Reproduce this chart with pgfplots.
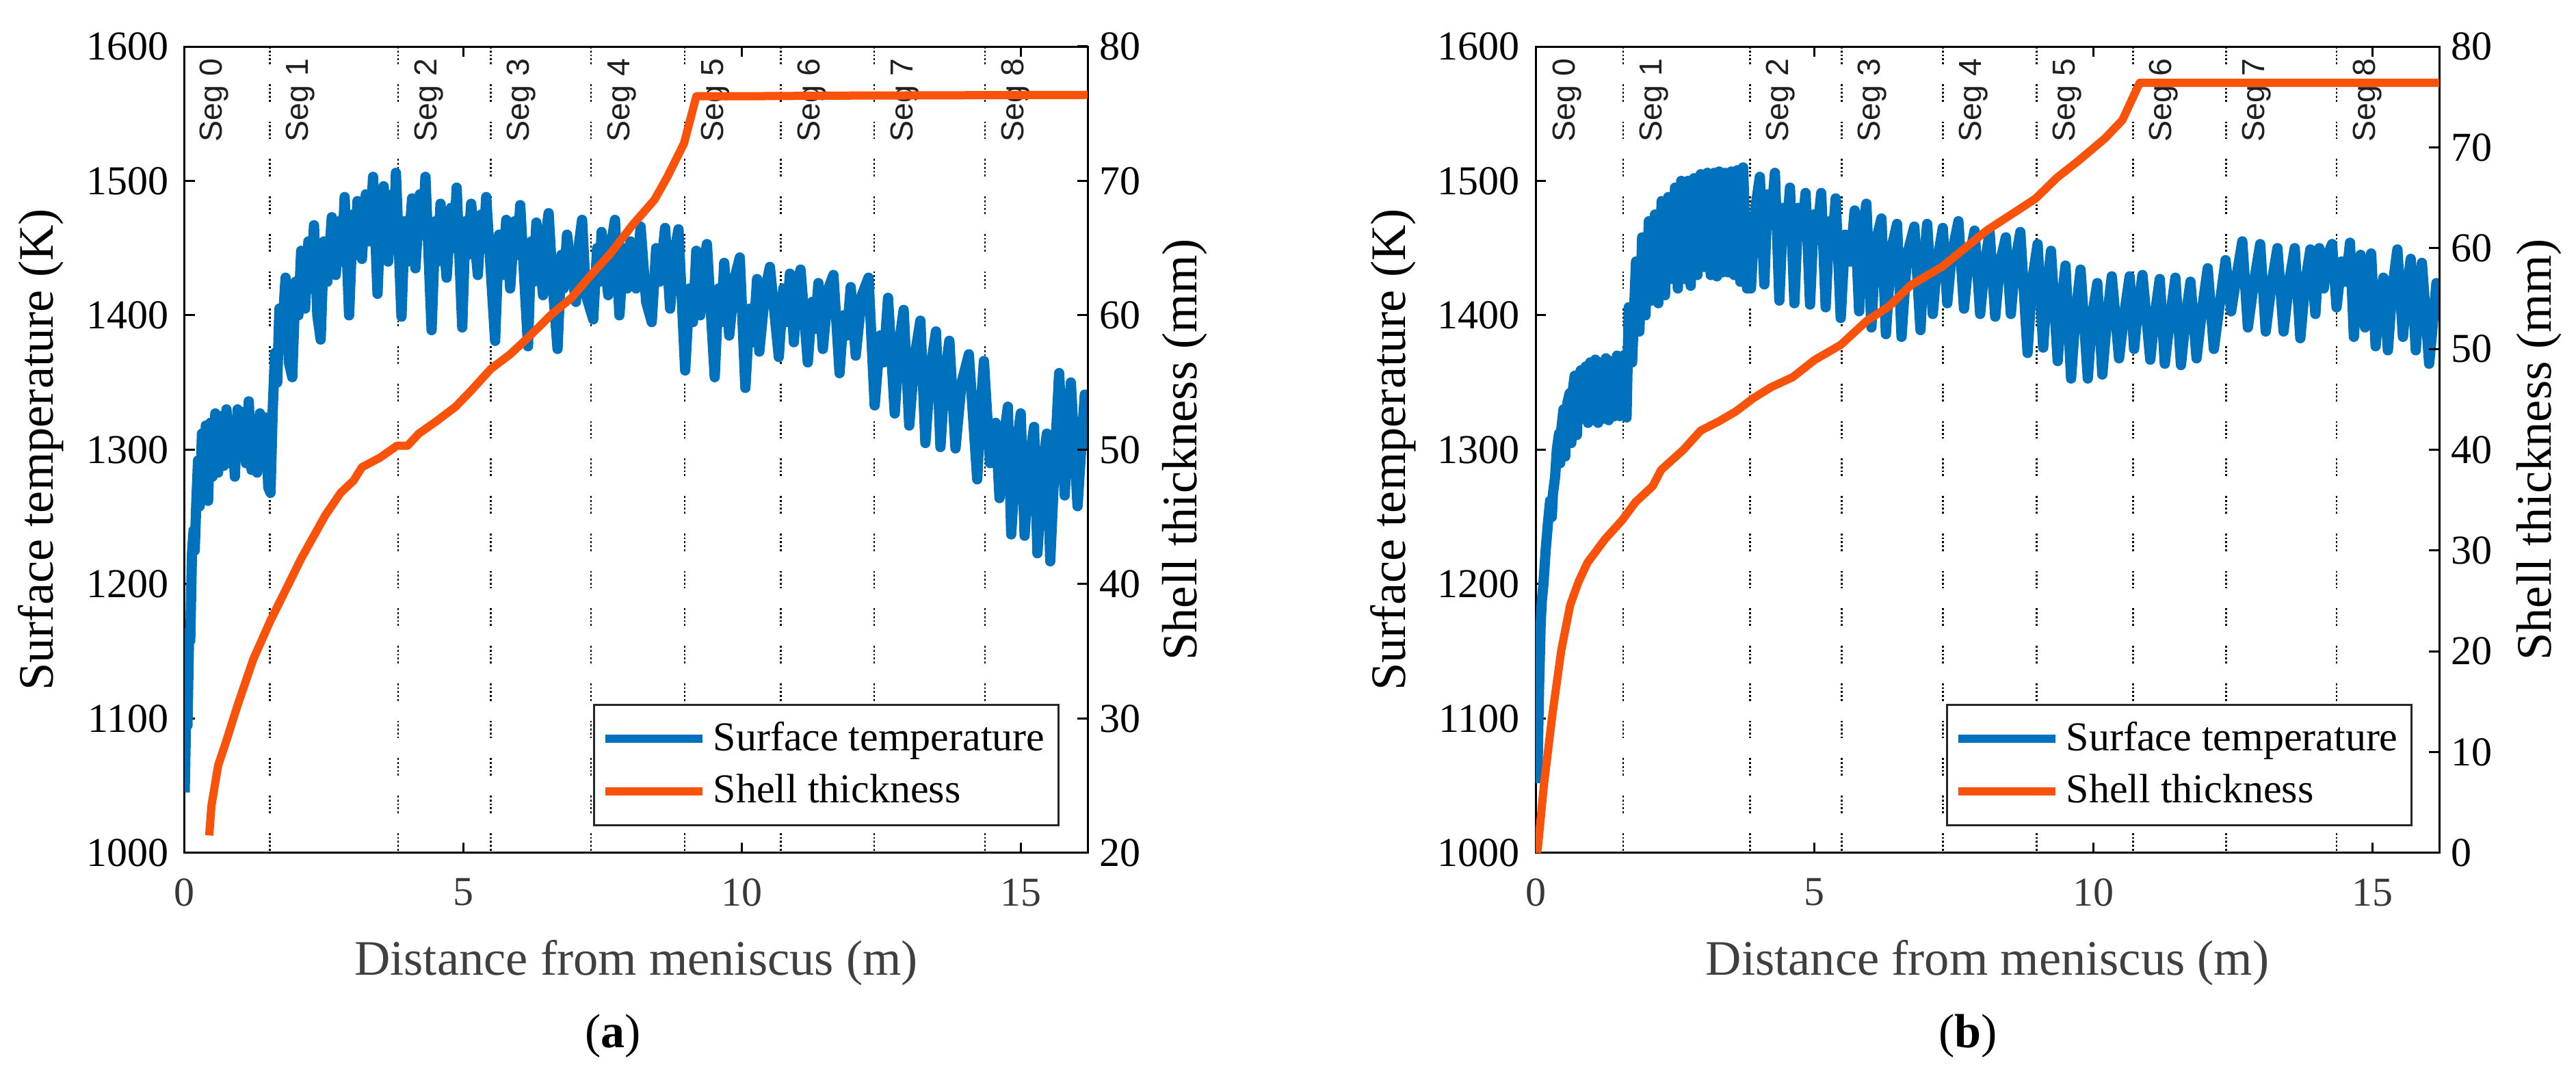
\documentclass[border=0pt]{standalone}
\usepackage{pgfplots}
\pgfplotsset{compat=1.18}
\usepackage{fontspec}
\setmainfont{Liberation Serif}
\setsansfont{Liberation Sans}
\definecolor{cblue}{RGB}{0,114,189}
\definecolor{corange}{RGB}{249,83,11}
\tikzset{
  seglab/.style={font=\sffamily\fontsize{9.3}{10}\selectfont, text=black!88, rotate=90, anchor=east, yshift=-0.8pt},
  segline/.style={black, line width=0.55pt, dash pattern=on 0.55pt off 0.6pt on 0.55pt off 0.6pt on 0.55pt off 0.6pt on 0.55pt off 0.6pt on 0.55pt off 5.8pt},
  temp/.style={cblue, line width=3pt, line join=round},
  shell/.style={corange, line width=2.4pt, line join=round},
}
\pgfplotsset{
  base/.style={
    scale only axis, width=264pt, height=235.8pt,
    xmin=0, xmax=16.2,
    tick align=inside, major tick length=3pt,
    tick style={black, line width=0.6pt},
    axis line style={black, line width=0.6pt},
    /pgf/number format/assume math mode=true,
    ticklabel style={font=\fontsize{12}{14}\selectfont},
    label style={font=\fontsize{14.5}{17}\selectfont},
    clip=true,
  },
  leftax/.style={base,
    ymin=1000, ymax=1600, ytick={1000,1100,...,1600},
    xtick={0,5,10,15}, ytick pos=left, xtick pos=both,
    xticklabel pos=lower,
    xticklabel style={text=black!78, yshift=-4pt},
    yticklabel style={xshift=-1.2pt},
    /pgf/number format/1000 sep={},
    xlabel={Distance from meniscus (m)},
    xlabel style={text=black!75, at={(axis description cs:0.5,-0.1518)}, anchor=base},
    ylabel={Surface temperature (K)},
  },
  rightax/.style={base,
    axis x line=none, axis y line*=right,
    ytick distance=10,
    legend cell align=left,
    legend style={draw=black!85, line width=0.6pt, fill=white,
      font=\fontsize{12}{14}\selectfont, inner xsep=2pt, inner ysep=3pt, row sep=1.5pt},
    legend image code/.code={\draw[#1, line width=2.4pt] (0pt,0pt) -- (28.4pt,0pt);},
    ylabel={Shell thickness (mm)},
  },
}
\begin{document}
\begin{tikzpicture}
\path[use as bounding box] (0,0) rectangle (753.2pt,315.2pt);
% ================= (a) =================
\begin{axis}[leftax, at={(54pt,65.8pt)}, anchor=south west,
  ylabel style={at={(axis description cs:-0.159,0.5)}, anchor=center}]
\addplot[segline, forget plot] coordinates {(1.53,1600)(1.53,1000)};
\addplot[segline, forget plot] coordinates {(3.83,1600)(3.83,1000)};
\addplot[segline, forget plot] coordinates {(5.49,1600)(5.49,1000)};
\addplot[segline, forget plot] coordinates {(7.29,1600)(7.29,1000)};
\addplot[segline, forget plot] coordinates {(8.97,1600)(8.97,1000)};
\addplot[segline, forget plot] coordinates {(10.70,1600)(10.70,1000)};
\addplot[segline, forget plot] coordinates {(12.37,1600)(12.37,1000)};
\addplot[segline, forget plot] coordinates {(14.36,1600)(14.36,1000)};
\node[seglab] at (axis cs:0.48,1600) {Seg 0};
\node[seglab] at (axis cs:2.03,1600) {Seg 1};
\node[seglab] at (axis cs:4.33,1600) {Seg 2};
\node[seglab] at (axis cs:5.99,1600) {Seg 3};
\node[seglab] at (axis cs:7.79,1600) {Seg 4};
\node[seglab] at (axis cs:9.47,1600) {Seg 5};
\node[seglab] at (axis cs:11.20,1600) {Seg 6};
\node[seglab] at (axis cs:12.87,1600) {Seg 7};
\node[seglab] at (axis cs:14.86,1600) {Seg 8};
\addplot[temp] coordinates {
(0.00,1045)(0.03,1110)(0.05,1095)(0.08,1165)(0.10,1158)(0.13,1222)(0.16,1240)(0.18,1225)(0.21,1262)(0.24,1292)
(0.27,1258)(0.31,1312)(0.34,1282)(0.38,1318)(0.42,1262)(0.46,1320)(0.50,1280)(0.55,1327)(0.60,1283)(0.65,1325)
(0.70,1288)(0.75,1330)(0.80,1290)(0.85,1322)(0.90,1280)(0.95,1330)(1.00,1295)(1.05,1328)(1.10,1290)(1.15,1336)
(1.20,1285)(1.25,1322)(1.30,1283)(1.35,1327)(1.40,1290)(1.45,1324)(1.50,1272)(1.54,1268)(1.58,1330)(1.62,1372)
(1.66,1350)(1.70,1405)(1.75,1388)(1.81,1428)(1.87,1365)(1.93,1354)(1.99,1425)(2.04,1400)(2.09,1448)(2.16,1405)
(2.22,1455)(2.27,1420)(2.32,1467)(2.38,1400)(2.44,1382)(2.50,1455)(2.56,1425)(2.64,1473)(2.71,1430)(2.77,1470)
(2.82,1440)(2.87,1488)(2.95,1400)(3.02,1475)(3.06,1445)(3.10,1485)(3.18,1442)(3.25,1490)(3.32,1455)(3.38,1503)
(3.46,1416)(3.52,1480)(3.55,1450)(3.57,1496)(3.65,1440)(3.72,1490)(3.76,1460)(3.79,1506)(3.89,1399)(3.95,1470)
(4.00,1440)(4.08,1487)(4.14,1435)(4.22,1490)(4.27,1460)(4.32,1503)(4.43,1389)(4.50,1470)(4.54,1440)(4.59,1483)
(4.70,1428)(4.78,1480)(4.83,1450)(4.88,1495)(4.98,1391)(5.04,1470)(5.08,1445)(5.14,1483)(5.26,1430)(5.32,1475)
(5.36,1450)(5.41,1488)(5.57,1381)(5.64,1460)(5.70,1430)(5.77,1471)(5.84,1420)(5.92,1470)(5.97,1445)(6.02,1482)
(6.16,1377)(6.22,1455)(6.26,1425)(6.31,1469)(6.43,1415)(6.48,1460)(6.53,1476)(6.60,1425)(6.69,1375)(6.76,1445)
(6.80,1420)(6.86,1460)(7.02,1410)(7.08,1455)(7.13,1471)(7.20,1415)(7.33,1397)(7.40,1450)(7.44,1425)(7.48,1462)
(7.60,1415)(7.66,1455)(7.72,1471)(7.80,1400)(7.88,1450)(7.94,1420)(8.00,1455)(8.10,1420)(8.18,1466)(8.28,1410)
(8.38,1395)(8.46,1450)(8.52,1425)(8.62,1465)(8.71,1405)(8.78,1445)(8.86,1464)(8.98,1359)(9.06,1420)(9.12,1395)
(9.18,1448)(9.25,1400)(9.32,1440)(9.37,1453)(9.51,1354)(9.58,1420)(9.63,1395)(9.68,1439)(9.77,1385)(9.88,1430)
(9.96,1443)(10.06,1346)(10.14,1405)(10.20,1380)(10.27,1427)(10.31,1373)(10.42,1420)(10.50,1436)(10.66,1369)(10.74,1420)
(10.80,1395)(10.86,1431)(10.93,1380)(11.00,1425)(11.05,1434)(11.18,1365)(11.26,1410)(11.31,1390)(11.37,1424)(11.45,1375)
(11.55,1420)(11.64,1430)(11.75,1357)(11.82,1400)(11.88,1385)(11.95,1421)(12.04,1370)(12.15,1415)(12.27,1428)(12.38,1333)
(12.48,1385)(12.54,1365)(12.62,1413)(12.74,1327)(12.82,1380)(12.90,1404)(13.00,1318)(13.10,1370)(13.20,1396)(13.29,1305)
(13.38,1360)(13.48,1388)(13.56,1302)(13.64,1355)(13.72,1381)(13.83,1301)(13.94,1350)(14.07,1371)(14.22,1278)(14.28,1330)
(14.34,1366)(14.45,1290)(14.55,1320)(14.62,1264)(14.70,1310)(14.77,1332)(14.83,1237)(14.92,1300)(15.00,1327)(15.07,1236)
(15.15,1290)(15.24,1317)(15.30,1223)(15.40,1290)(15.47,1312)(15.53,1217)(15.62,1300)(15.69,1357)(15.79,1266)(15.85,1320)
(15.90,1350)(16.02,1258)(16.10,1310)(16.15,1341)(16.20,1300)
};
\end{axis}
\begin{axis}[rightax, at={(54pt,65.8pt)}, anchor=south west,
  ymin=20, ymax=80,
  ylabel style={at={(axis description cs:1.1076,0.5)}, anchor=center},
  legend style={at={(0.9689,0.0331)}, anchor=south east}]
\addlegendimage{temp}
\addlegendentry{Surface temperature}
\addplot[shell] coordinates {
(0.44,21.3)(0.48,23.5)(0.60,26.5)(0.76,28.5)(0.95,31.0)(1.23,34.4)(1.54,37.3)(1.78,39.3)(2.09,41.9)(2.52,45.1)
(2.80,46.8)(3.03,47.7)(3.18,48.7)(3.50,49.4)(3.81,50.3)(4.00,50.3)(4.20,51.2)(4.51,52.1)(4.86,53.2)(5.14,54.4)
(5.49,56.0)(5.84,57.1)(6.20,58.5)(6.59,60.1)(6.94,61.3)(7.29,63.0)(7.64,64.6)(8.03,66.7)(8.43,68.6)(8.66,70.3)
(8.96,72.8)(9.18,76.3)(10.00,76.3)(12.00,76.35)(16.20,76.4)
};
\addlegendentry{Shell thickness}
\end{axis}
% ================= (b) =================
\begin{axis}[leftax, at={(449pt,65.8pt)}, anchor=south west, width=264.2pt,
  ylabel style={at={(axis description cs:-0.1575,0.5)}, anchor=center}]
\addplot[segline, forget plot] coordinates {(1.57,1600)(1.57,1000)};
\addplot[segline, forget plot] coordinates {(3.84,1600)(3.84,1000)};
\addplot[segline, forget plot] coordinates {(5.49,1600)(5.49,1000)};
\addplot[segline, forget plot] coordinates {(7.30,1600)(7.30,1000)};
\addplot[segline, forget plot] coordinates {(8.98,1600)(8.98,1000)};
\addplot[segline, forget plot] coordinates {(10.71,1600)(10.71,1000)};
\addplot[segline, forget plot] coordinates {(12.38,1600)(12.38,1000)};
\addplot[segline, forget plot] coordinates {(14.36,1600)(14.36,1000)};
\node[seglab] at (axis cs:0.52,1600) {Seg 0};
\node[seglab] at (axis cs:2.07,1600) {Seg 1};
\node[seglab] at (axis cs:4.34,1600) {Seg 2};
\node[seglab] at (axis cs:5.99,1600) {Seg 3};
\node[seglab] at (axis cs:7.80,1600) {Seg 4};
\node[seglab] at (axis cs:9.48,1600) {Seg 5};
\node[seglab] at (axis cs:11.21,1600) {Seg 6};
\node[seglab] at (axis cs:12.88,1600) {Seg 7};
\node[seglab] at (axis cs:14.86,1600) {Seg 8};
\addplot[temp] coordinates {
(0.03,1052)(0.06,1120)(0.09,1170)(0.11,1187)(0.14,1200)(0.18,1225)(0.22,1245)(0.26,1262)(0.29,1250)(0.31,1267)
(0.35,1280)(0.38,1300)(0.42,1312)(0.44,1290)(0.46,1315)(0.50,1330)(0.53,1295)(0.57,1335)(0.61,1342)(0.64,1305)
(0.66,1342)(0.70,1355)(0.74,1311)(0.78,1355)(0.81,1359)(0.86,1323)(0.90,1362)(0.94,1320)(0.98,1365)(1.02,1322)
(1.07,1367)(1.12,1320)(1.16,1365)(1.21,1323)(1.26,1368)(1.31,1322)(1.36,1366)(1.41,1325)(1.46,1370)(1.51,1325)
(1.57,1370)(1.63,1324)(1.67,1406)(1.73,1365)(1.80,1440)(1.86,1388)(1.91,1458)(1.97,1400)(2.03,1470)(2.08,1411)
(2.14,1475)(2.20,1409)(2.26,1485)(2.32,1415)(2.38,1488)(2.44,1427)(2.50,1495)(2.55,1420)(2.61,1500)(2.67,1427)
(2.73,1500)(2.78,1422)(2.84,1502)(2.90,1430)(2.96,1505)(3.02,1436)(3.08,1506)(3.14,1430)(3.20,1506)(3.25,1429)
(3.29,1507)(3.35,1432)(3.40,1506)(3.45,1432)(3.51,1507)(3.56,1430)(3.62,1508)(3.67,1425)(3.72,1510)(3.79,1420)
(3.86,1420)(3.94,1480)(4.02,1503)(4.10,1423)(4.16,1490)(4.22,1470)(4.29,1506)(4.37,1411)(4.44,1480)(4.50,1460)
(4.56,1495)(4.64,1409)(4.71,1480)(4.77,1460)(4.84,1491)(4.92,1408)(4.99,1475)(5.05,1460)(5.12,1491)(5.20,1406)
(5.27,1470)(5.32,1455)(5.38,1487)(5.47,1398)(5.55,1460)(5.64,1440)(5.72,1478)(5.80,1403)(5.86,1465)(5.93,1483)
(6.02,1391)(6.10,1455)(6.20,1472)(6.28,1386)(6.38,1450)(6.48,1468)(6.56,1384)(6.66,1445)(6.79,1466)(6.90,1389)
(6.96,1440)(7.02,1468)(7.12,1401)(7.20,1440)(7.30,1465)(7.38,1409)(7.46,1445)(7.58,1470)(7.68,1405)(7.76,1440)
(7.87,1463)(7.97,1401)(8.06,1440)(8.14,1462)(8.24,1399)(8.33,1440)(8.43,1458)(8.52,1401)(8.60,1440)(8.69,1462)
(8.82,1372)(8.90,1425)(9.00,1453)(9.10,1376)(9.17,1420)(9.24,1448)(9.36,1366)(9.43,1410)(9.50,1437)(9.60,1353)
(9.68,1400)(9.77,1434)(9.90,1353)(9.98,1400)(10.07,1424)(10.16,1356)(10.25,1400)(10.33,1429)(10.46,1368)(10.55,1400)
(10.65,1429)(10.73,1375)(10.80,1405)(10.88,1430)(11.02,1367)(11.10,1400)(11.19,1427)(11.28,1364)(11.38,1400)(11.47,1428)
(11.57,1363)(11.66,1400)(11.74,1425)(11.85,1368)(11.95,1405)(12.05,1435)(12.16,1375)(12.27,1410)(12.37,1441)(12.47,1403)
(12.57,1430)(12.67,1455)(12.77,1391)(12.88,1425)(12.99,1453)(13.09,1388)(13.20,1425)(13.30,1450)(13.41,1388)(13.51,1425)
(13.61,1450)(13.71,1383)(13.80,1425)(13.89,1449)(13.98,1401)(14.05,1450)(14.13,1420)(14.20,1445)(14.28,1453)(14.36,1406)
(14.45,1440)(14.53,1425)(14.60,1454)(14.67,1384)(14.74,1430)(14.79,1445)(14.87,1391)(14.93,1430)(14.98,1446)(15.06,1377)
(15.13,1410)(15.20,1428)(15.28,1374)(15.36,1420)(15.45,1449)(15.55,1384)(15.62,1420)(15.69,1442)(15.78,1374)(15.84,1415)
(15.89,1439)(16.02,1364)(16.10,1400)(16.15,1424)(16.20,1410)
};
\end{axis}
\begin{axis}[rightax, at={(449pt,65.8pt)}, anchor=south west, width=264.2pt,
  ymin=0, ymax=80,
  ylabel style={at={(axis description cs:1.1105,0.5)}, anchor=center},
  legend style={at={(0.9705,0.0331)}, anchor=south east}]
\addlegendimage{temp}
\addlegendentry{Surface temperature}
\addplot[shell] coordinates {
(0.02,0.0)(0.04,0.5)(0.15,6.8)(0.30,13.7)(0.46,20.1)(0.62,24.6)(0.77,26.9)(0.93,28.8)(1.24,31.1)(1.55,33.0)
(1.79,34.8)(2.10,36.4)(2.25,38.0)(2.65,40.0)(2.96,41.9)(3.28,42.8)(3.59,43.8)(3.90,45.1)(4.22,46.2)(4.61,47.2)
(5.00,48.9)(5.47,50.4)(5.94,52.8)(6.33,54.2)(6.72,56.3)(7.30,58.2)(7.63,59.7)(8.10,61.8)(8.49,63.2)(8.96,64.9)
(9.35,67.0)(9.74,68.7)(10.21,70.9)(10.52,72.7)(10.83,76.4)(12.00,76.4)(16.20,76.4)
};
\addlegendentry{Shell thickness}
\end{axis}
\node[font=\fontsize{14}{16}\selectfont] at (179.2pt,12.2pt) {(\textbf{a})};
\node[font=\fontsize{14}{16}\selectfont] at (575.4pt,12.2pt) {(\textbf{b})};
\end{tikzpicture}
\end{document}
